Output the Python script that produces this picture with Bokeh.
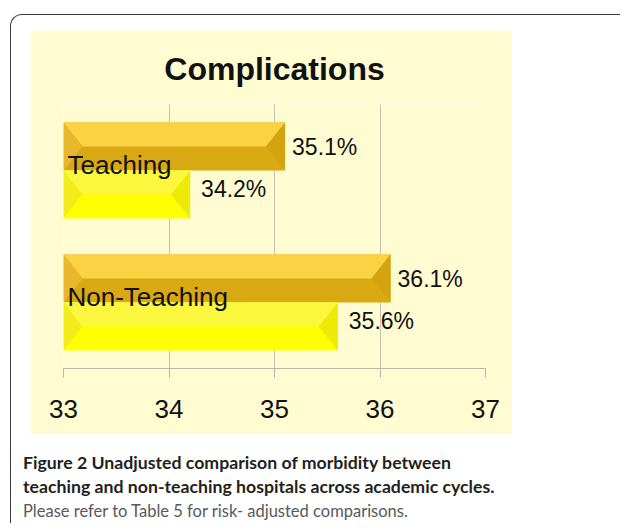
from bokeh.plotting import figure
from bokeh.models import ColumnDataSource, Range1d, FixedTicker, Div
from bokeh.layouts import column
from bokeh.core.properties import value
from bokeh.embed import file_html
from bokeh.resources import INLINE

# ---- data ----
categories = ["Teaching", "Non-Teaching"]
dark_values = [35.1, 36.1]
yellow_values = [34.2, 35.6]
tick_values = [33, 34, 35, 36, 37]
chart_title = "Complications"
caption_head = "Figure 2"
caption_bold = ["Unadjusted comparison of morbidity between",
                "teaching and non-teaching hospitals across academic cycles."]
caption_note = "Please refer to Table 5 for risk- adjusted comparisons."

BG = "#FFFCD2"
X0, X1 = 33, 37
W, H = 482, 404
ML, MR, MT, MB = 33, 27, 74, 66
PXU = (W - ML - MR) / (X1 - X0)
PYU = (H - MT - MB) / 4.0

p = figure(width=W, height=H, output_backend="svg", toolbar_location=None,
           x_range=Range1d(X0, X1), y_range=Range1d(0, 4), y_axis_type=None,
           min_border_left=ML, min_border_right=MR, min_border_top=MT,
           min_border_bottom=MB, title=chart_title, margin=(15, 0, 0, 19))
p.background_fill_color = BG
p.border_fill_color = BG
p.outline_line_color = None
p.title.align = "center"
p.title.text_font = "Liberation Sans"
p.title.text_font_size = "32px"
p.title.text_font_style = "bold"
p.title.text_color = "#111111"
p.title.standoff = 36

# grid / axis
p.ygrid.visible = False
p.xgrid.grid_line_color = "#C4C2B4"
p.xgrid.ticker = FixedTicker(ticks=tick_values)
ax = p.xaxis[0]
ax.ticker = FixedTicker(ticks=tick_values)
ax.minor_tick_line_color = None
ax.axis_line_color = "#B8B6AA"
ax.major_tick_line_color = "#B8B6AA"
ax.major_tick_in = 0
ax.major_tick_out = 9
ax.major_label_standoff = 22
ax.major_label_text_font = "Liberation Sans"
ax.major_label_text_font_size = "26px"
ax.major_label_text_color = "#111111"

# bars
h = 48 / PYU
d = 19 / PXU
centers = [4 - 1 - 2 * i for i in range(len(categories))]

def bevel_bar(vals, tops, face_top, face_left, face_right, face_bottom):
    src = ColumnDataSource(dict(y=[t - h / 2 for t in tops], right=vals))
    p.hbar(y="y", height=h, left=X0, right="right", source=src,
           fill_color=face_bottom, line_color=None)
    xs_t, ys_t, xs_l, ys_l, xs_r, ys_r = [], [], [], [], [], []
    for v, t in zip(vals, tops):
        b, m = t - h, t - h / 2
        xs_t.append([X0, v, v - d, X0 + d]); ys_t.append([t, t, m, m])
        xs_l.append([X0, X0 + d, X0]); ys_l.append([t, m, b])
        xs_r.append([v, v - d, v]); ys_r.append([t, m, b])
    p.patches(xs_t, ys_t, fill_color=face_top, line_color=None)
    p.patches(xs_l, ys_l, fill_color=face_left, line_color=None)
    p.patches(xs_r, ys_r, fill_color=face_right, line_color=None)

bevel_bar(dark_values, [c + h for c in centers], "#FCD245", "#E9B72C", "#D3A410", "#D9A913")
bevel_bar(yellow_values, centers, "#FAF73E", "#F2EC1C", "#EEEA08", "#FFFF00")

# value labels
p.text(x=dark_values, y=[c + h / 2 for c in centers],
       text=[f"{v}%" for v in dark_values], x_offset=7,
       text_font=value("Liberation Sans"), text_font_size="23px",
       text_baseline="middle", text_align="left", text_color="#111111")
p.text(x=yellow_values, y=[c - h / 2 for c in centers],
       text=[f"{v}%" for v in yellow_values], x_offset=11, y_offset=-6,
       text_font=value("Liberation Sans"), text_font_size="23px",
       text_baseline="middle", text_align="left", text_color="#111111")

# category labels
p.text(x=[X0] * len(categories), y=centers, text=categories, x_offset=4, y_offset=-6,
       text_font=value("Liberation Sans"), text_font_size="26px",
       text_baseline="middle", text_align="left", text_color="#111111")

# caption
line_style = "display:block;height:24px;line-height:24px;white-space:nowrap;margin:0;padding:0;"
bold_style = line_style + "font-weight:700;color:#231F20;font-size:17.7px;"
note_style = line_style + "color:#58595B;font-size:16.5px;"
cap_html = (f'<div style="{bold_style}">{caption_head} {caption_bold[0]}</div>'
            f'<div style="{bold_style}">{caption_bold[1]}</div>'
            f'<div style="{note_style}">{caption_note}</div>')
cap = Div(text=cap_html, width=597, margin=(17, 0, 0, 12),
          styles={"font-family": "Lato"})

layout = column(p, cap, margin=(14, 0, 0, 10),
                styles={"border-left": "1.5px solid #3C3C3C",
                        "border-top": "1.5px solid #3C3C3C",
                        "border-top-left-radius": "12px",
                        "background-color": "white"})

open("out.html", "w").write(file_html(layout, INLINE))
